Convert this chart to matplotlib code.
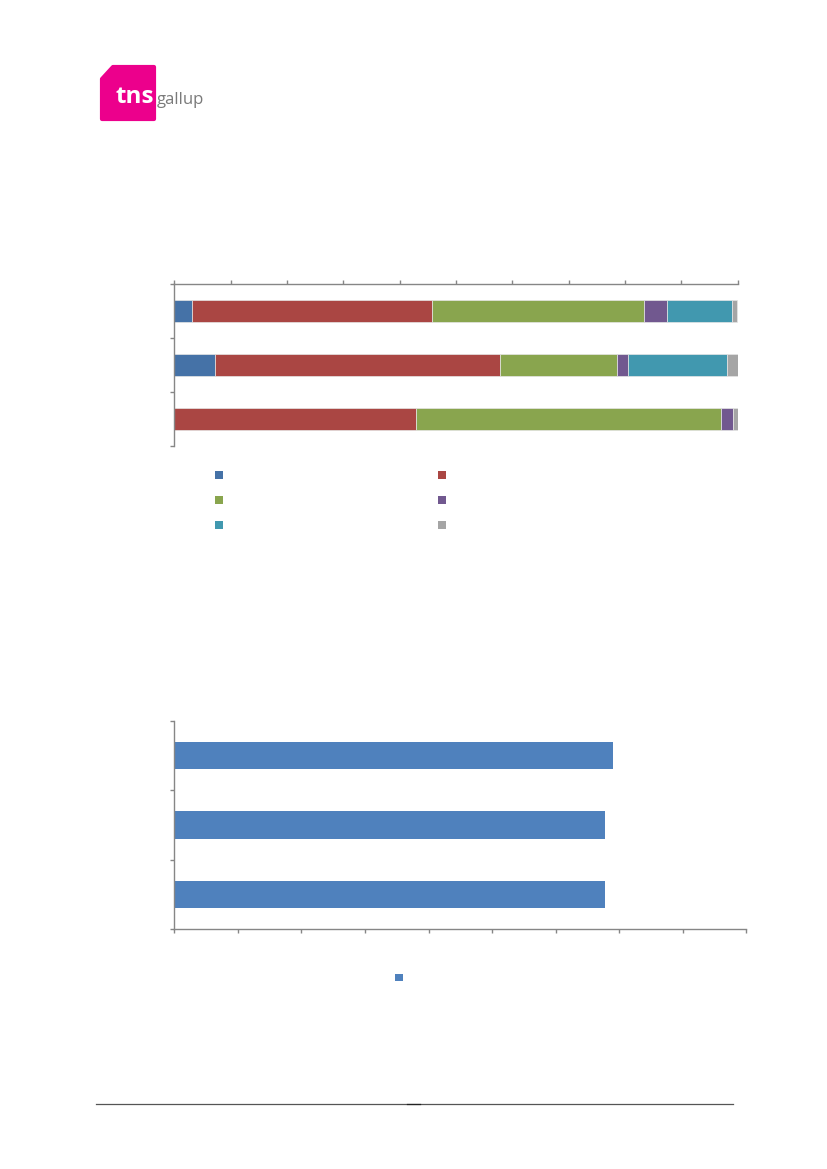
import matplotlib
matplotlib.use("Agg")
import matplotlib.pyplot as plt
from matplotlib.patches import Patch, Polygon
from matplotlib.lines import Line2D
import numpy as np

# ---------------- data ----------------
# top chart: three categories (listed top to bottom), six stacked series (%)
categories_top = ["Row 1", "Row 2", "Row 3"]
series1 = [3.1, 7.2, 0.0]
series2 = [42.7, 50.6, 42.9]
series3 = [37.6, 20.7, 54.2]
series4 = [4.1, 2.0, 2.0]
series5 = [11.4, 17.6, 0.0]
series6 = [1.0, 1.9, 0.9]
top_series = [series1, series2, series3, series4, series5, series6]
top_colors = ["#4572A7", "#AA4643", "#89A54E", "#71588F", "#4198AF", "#A5A5A5"]
top_xticks = list(range(0, 101, 10))

# bottom chart: three categories (listed top to bottom), one series
categories_bottom = ["Row 1", "Row 2", "Row 3"]
bottom_values = [69.1, 67.8, 67.8]
bottom_color = "#4F81BD"
bottom_xticks = list(range(0, 91, 10))

W, H = 827, 1169
fig = plt.figure(figsize=(W / 100, H / 100), dpi=100)
fig.patch.set_facecolor("white")

def fx(px):
    return px / W

def fy(py):
    return 1 - py / H

axis_color = "#868686"

# ---------------- top chart ----------------
axt = fig.add_axes([fx(174.3), fy(446), fx(737.7) - fx(174.3), fy(284) - fy(446)])
y = np.arange(len(categories_top))
left = np.zeros(len(categories_top))
for vals, col in zip(top_series, top_colors):
    axt.barh(y, vals, left=left, height=0.4, color=col, edgecolor="#e6e6e6", linewidth=0.5)
    left = left + np.array(vals)
axt.set_xlim(0, 100)
axt.set_ylim(len(categories_top) - 0.5, -0.5)
axt.xaxis.set_ticks_position("top")
axt.set_xticks(top_xticks)
axt.set_yticks(np.arange(-0.5, len(categories_top), 1.0))
axt.set_xticklabels([])
axt.set_yticklabels([])
for s in ["bottom", "right"]:
    axt.spines[s].set_visible(False)
for s in ["top", "left"]:
    axt.spines[s].set_color(axis_color)
    axt.spines[s].set_linewidth(1.0)
axt.tick_params(axis="both", direction="out", length=3, width=1.0, color=axis_color)
axt.set_facecolor("none")

# legend is filled row-wise in the reference (2 columns): reorder for matplotlib's column fill
handles = [Patch(facecolor=c, edgecolor="none") for c in top_colors]
order = [0, 2, 4, 1, 3, 5]
handles = [handles[i] for i in order]
fs = 8
fs_px = fs * 100 / 72
hl = 7.6 / fs_px
fig.legend(handles, [""] * len(handles), ncol=2, loc="upper left",
           bbox_to_anchor=(fx(215), fy(470.8)), frameon=False, fontsize=fs,
           handlelength=hl, handleheight=hl, handletextpad=0,
           columnspacing=(223.3 - 7.6) / fs_px, labelspacing=1.36,
           borderpad=0, borderaxespad=0)

# ---------------- bottom chart ----------------
axb = fig.add_axes([fx(174.3), fy(929.3), fx(746.3) - fx(174.3), fy(720.7) - fy(929.3)])
yb = np.arange(len(categories_bottom))
axb.barh(yb, bottom_values, height=0.4, color=bottom_color)
axb.set_xlim(0, 90)
axb.set_ylim(len(categories_bottom) - 0.5, -0.5)
axb.set_xticks(bottom_xticks)
axb.set_yticks(np.arange(-0.5, len(categories_bottom), 1.0))
axb.set_xticklabels([])
axb.set_yticklabels([])
for s in ["top", "right"]:
    axb.spines[s].set_visible(False)
for s in ["bottom", "left"]:
    axb.spines[s].set_color(axis_color)
    axb.spines[s].set_linewidth(1.0)
axb.tick_params(axis="both", direction="out", length=3, width=1.0, color=axis_color)
axb.set_facecolor("none")

fig.legend([Patch(facecolor=bottom_color, edgecolor="none")], [""], loc="upper left",
           bbox_to_anchor=(fx(395.3), fy(973.5)), frameon=False, fontsize=fs,
           handlelength=hl, handleheight=hl, handletextpad=0,
           borderpad=0, borderaxespad=0)

# ---------------- logo ----------------
pts = [(113, 67), (154, 67), (154, 118.5), (102, 118.5), (102, 79)]
logo = Polygon([(fx(a), fy(b)) for a, b in pts], closed=True, transform=fig.transFigure,
               facecolor="#EC008C", edgecolor="#EC008C", linewidth=3.0, joinstyle="round")
fig.add_artist(logo)
fig.text(fx(115.5), fy(102.7), "tns", color="white", fontsize=17.5, fontweight="bold",
         family=["Open Sans", "DejaVu Sans"], ha="left", va="baseline")
fig.text(fx(157.0), fy(104.0), "gallup", color="#7a7a7a", fontsize=12,
         family=["Open Sans", "DejaVu Sans"], ha="left", va="baseline")

# ---------------- footer rule ----------------
fig.add_artist(Line2D([fx(96), fx(733)], [fy(1104), fy(1104)], transform=fig.transFigure,
                      color="#555555", linewidth=0.9))
fig.add_artist(Line2D([fx(406.7), fx(420)], [fy(1104), fy(1104)], transform=fig.transFigure,
                      color="#222222", linewidth=0.9))

fig.savefig("out.png", dpi=100, facecolor="white")
